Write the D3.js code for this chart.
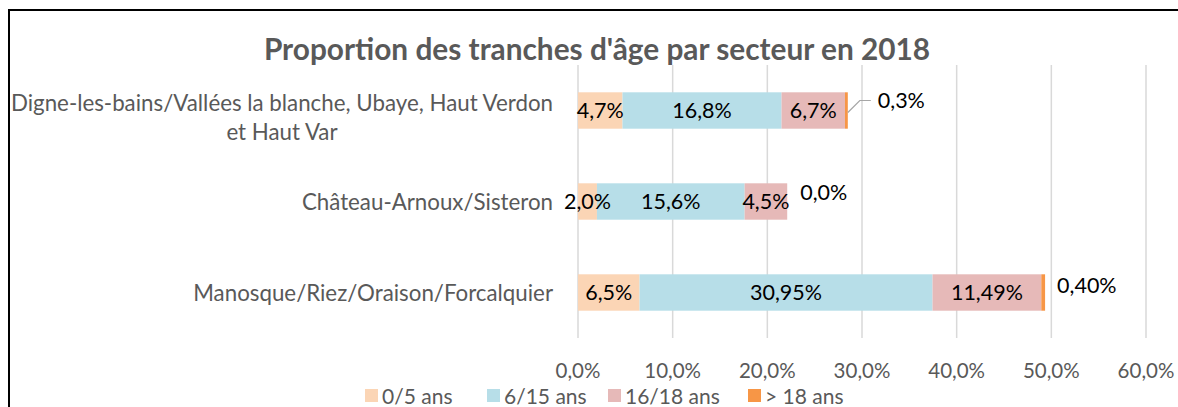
<!DOCTYPE html>
<html>
<head>
<meta charset="utf-8">
<script src="https://cdn.jsdelivr.net/npm/d3@7"></script>
<style>
  body { margin: 0; background: #fff; }
  svg { display: block; font-family: Lato, "Open Sans", sans-serif; }
</style>
</head>
<body>
<div class="box"></div>
<script>
// data
var sectors = [
    "Digne-les-bains/Vallées la blanche, Ubaye, Haut Verdon|et Haut Var",
    "Château-Arnoux/Sisteron",
    "Manosque/Riez/Oraison/Forcalquier"
];
var ageGroups = ["0/5 ans", "6/15 ans", "16/18 ans", "> 18 ans"];
var age0_5 = [4.7, 2.0, 6.5];
var age6_15 = [16.8, 15.6, 30.95];
var age16_18 = [6.7, 4.5, 11.49];
var age18plus = [0.3, 0.0, 0.40];
var labels0_5 = ["4,7%", "2,0%", "6,5%"];
var labels6_15 = ["16,8%", "15,6%", "30,95%"];
var labels16_18 = ["6,7%", "4,5%", "11,49%"];
var labels18plus = ["0,3%", "0,0%", "0,40%"];
var xTicks = [0, 10, 20, 30, 40, 50, 60];
var colors = ["#FBD5B5", "#B7DEE8", "#E6B9B8", "#F79646"];

var width = 1178, height = 407;
var margin = { top: 65, right: 32, bottom: 69, left: 578 };

var series = [age0_5, age6_15, age16_18, age18plus];
var seriesLabels = [labels0_5, labels6_15, labels16_18, labels18plus];

var svg = d3.select(".box").append("svg")
    .attr("width", width)
    .attr("height", height);

// frame
svg.append("path")
    .attr("d", "M9," + height + "V10H" + width)
    .attr("fill", "none")
    .attr("stroke", "#000")
    .attr("stroke-width", 2);

var x = d3.scaleLinear().domain([0, 60]).range([margin.left, width - margin.right]);
var y = d3.scaleBand().domain(sectors)
    .range([margin.top, height - margin.bottom])
    .paddingInner(0.6).paddingOuter(0.3);

// title
svg.append("text")
    .attr("x", 597)
    .attr("y", 60)
    .attr("text-anchor", "middle")
    .attr("font-size", 29.8)
    .attr("font-weight", "bold")
    .attr("fill", "#595959")
    .text("Proportion des tranches d'âge par secteur en 2018");

// grid
svg.append("g")
    .selectAll("line")
    .data(xTicks)
    .join("line")
    .attr("x1", d => x(d)).attr("x2", d => x(d))
    .attr("y1", margin.top).attr("y2", height - margin.bottom)
    .attr("stroke", "#D9D9D9")
    .attr("stroke-width", 1.5);

// x axis labels
svg.append("g")
    .selectAll("text")
    .data(xTicks)
    .join("text")
    .attr("x", d => x(d))
    .attr("y", 378)
    .attr("text-anchor", "middle")
    .attr("font-size", 20.5)
    .attr("fill", "#595959")
    .text(d => d.toFixed(1).replace(".", ",") + "%");

// stacked bars
var rows = sectors.map(function (s, i) {
    var x0 = 0;
    return series.map(function (vals, k) {
        var seg = { sector: s, k: k, x0: x0, x1: x0 + vals[i], label: seriesLabels[k][i] };
        x0 += vals[i];
        return seg;
    });
});
var segs = rows.flat();

svg.append("g")
    .selectAll("rect")
    .data(segs)
    .join("rect")
    .attr("x", d => x(d.x0))
    .attr("y", d => y(d.sector))
    .attr("width", d => x(d.x1) - x(d.x0))
    .attr("height", y.bandwidth())
    .attr("fill", d => colors[d.k]);

// labels inside segments
svg.append("g")
    .selectAll("text")
    .data(segs.filter(d => d.k < 3))
    .join("text")
    .attr("x", d => (x(d.x0) + x(d.x1)) / 2)
    .attr("y", d => y(d.sector) + y.bandwidth() / 2)
    .attr("dy", "0.36em")
    .attr("text-anchor", "middle")
    .attr("font-size", 21.5)
    .attr("fill", "#000")
    .text(d => d.label);

// labels for the thin last segment, put outside
var outsideOffsets = [[30, -10], [13, -9], [12, -7]];
var outside = segs.filter(d => d.k === 3);
svg.append("g")
    .selectAll("text")
    .data(outside)
    .join("text")
    .attr("x", (d, i) => x(d.x1) + outsideOffsets[i][0])
    .attr("y", (d, i) => y(d.sector) + y.bandwidth() / 2 + outsideOffsets[i][1])
    .attr("dy", "0.36em")
    .attr("font-size", 21.5)
    .attr("fill", "#000")
    .text(d => d.label);

// leader line for first row
var first = outside[0];
var ly = y(first.sector) + y.bandwidth() / 2;
svg.append("path")
    .attr("d", "M" + x(first.x1) + "," + (ly + 2) + "L" + (x(first.x1) + 12) + "," + (ly - 10) + "H" + (x(first.x1) + 23))
    .attr("fill", "none")
    .attr("stroke", "#A6A6A6")
    .attr("stroke-width", 1.2);

// category labels
var cats = svg.append("g");
sectors.forEach(function (s) {
    var lines = s.split("|");
    var t = cats.append("text")
        .attr("font-size", 22.3)
        .attr("fill", "#595959")
        .attr("text-anchor", "middle");
    var cy = y(s) + y.bandwidth() / 2;
    var lh = 29;
    lines.forEach(function (line, j) {
        t.append("tspan")
            .attr("x", 0)
            .attr("y", cy - (lines.length - 1) * lh / 2 + j * lh + (lines.length > 1 ? 7 : 0))
            .attr("dy", "0.36em")
            .text(line);
    });
    var w = t.node().getBBox().width;
    t.selectAll("tspan").attr("x", 553 - w / 2);
});

// legend
var legend = svg.append("g").selectAll("g")
    .data(ageGroups)
    .join("g")
    .attr("transform", (d, i) => "translate(" + [365, 487, 608, 748][i] + ",389)");
legend.append("rect")
    .attr("width", 13).attr("height", 13)
    .attr("fill", (d, i) => colors[i]);
legend.append("text")
    .attr("x", 17)
    .attr("y", 7)
    .attr("dy", "0.36em")
    .attr("font-size", 21)
    .attr("fill", "#595959")
    .text(d => d);
</script>
</body>
</html>
